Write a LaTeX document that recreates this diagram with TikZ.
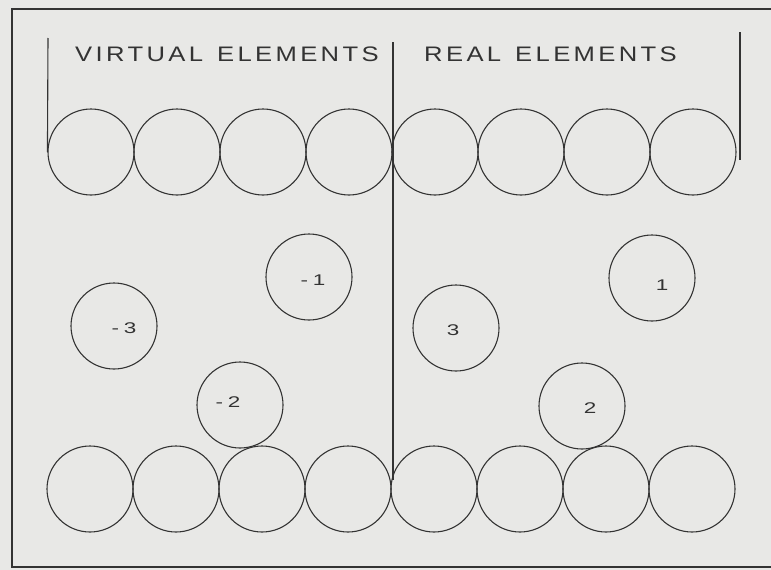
\documentclass[tikz,border=0pt]{standalone}
\usepackage{fontspec}
\usepackage{xcolor}
\usetikzlibrary{positioning,calc}
\newfontfamily\plotfont{Liberation Sans}[FakeStretch=1.22,LetterSpace=16]
\newfontfamily\digitfont{Liberation Sans}[FakeStretch=1.45,LetterSpace=30]
\newcommand{\wgap}{\hspace{14pt}}
\definecolor{cPaper}{HTML}{E8E8E6}
\definecolor{cInk}{HTML}{333333}
\tikzset{
  elem/.style ={draw=cInk, circle, line width=1.1pt, minimum size=86pt, inner sep=0pt},
  num/.style  ={font=\digitfont\fontsize{15.5}{17}\selectfont, text=cInk, inner sep=0pt},
  head/.style ={font=\plotfont\fontsize{21}{24}\selectfont, text=cInk, inner sep=0pt, anchor=west},
  rule/.style ={draw=cInk, line width=1.1pt},
  frame/.style={draw=cInk, line width=2.2pt},
}
\begin{document}
\begin{tikzpicture}[x=1pt,y=-1pt]
    \useasboundingbox[fill=cPaper] (0,0) rectangle (771,570);
    % outer frame (left, top, bottom edges)
    \draw[frame] (790,9) -- (12,9) -- (12,567) -- (790,567);
    % top and bottom rows of elements
    \foreach \i in {1,...,8}{
      \node[elem] (t\i) at ({91+86*(\i-1)},152) {};
      \node[elem] (b\i) at ({90+86*(\i-1)},489) {};
    }
    % headings
    \node[head] (virt) at (75,54) {VIRTUAL\wgap ELEMENTS};
    \node[head] (real) at (424,54) {REAL\wgap ELEMENTS};
    % separators
    \coordinate (ltop) at (48,38);
    \coordinate (mtop) at (393,42);
    \coordinate (mbot) at (393,480);
    \coordinate (rtop) at (740,32);
    \coordinate (rbot) at (740,160);
    \draw[rule] (ltop) -- (t1.west);
    \draw[rule] (mtop) -- (mbot);
    \draw[rule] (rtop) -- (rbot);
    % loose elements
    \node[elem] (vm1) at (309,277) {};
    \node[elem] (vm3) at (114,326) {};
    \node[elem] (vm2) at (240,405) {};
    \node[elem] (re3) at (456,328) {};
    \node[elem] (re1) at (652,278) {};
    \node[elem] (re2) at (582,406) {};
    \node[num] at (313,280) {-1};
    \node[num] at (124,328) {-3};
    \node[num] at (228,402) {-2};
    \node[num] at (453,330) {3};
    \node[num] at (662,285) {1};
    \node[num] at (590,408) {2};
\end{tikzpicture}
\end{document}
